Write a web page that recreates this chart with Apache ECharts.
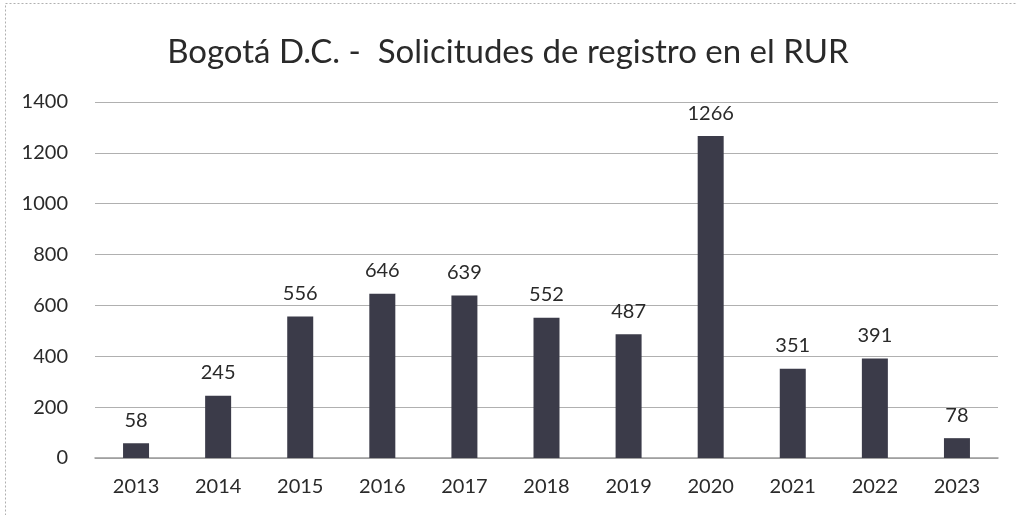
<!DOCTYPE html>
<html>
<head>
<meta charset="utf-8">
<script src="https://cdn.jsdelivr.net/npm/echarts@6/dist/echarts.min.js"></script>
<style>
  html, body { margin: 0; padding: 0; background: #fff; }
  #chart { width: 1016px; height: 515px; }
</style>
</head>
<body>
<div id="chart"></div>
<script>
const years = ['2013', '2014', '2015', '2016', '2017', '2018', '2019', '2020', '2021', '2022', '2023'];
const requests = [58, 245, 556, 646, 639, 552, 487, 1266, 351, 391, 78];
const yTicks = [0, 200, 400, 600, 800, 1000, 1200, 1400];

const chart = echarts.init(document.getElementById('chart'), null, { renderer: 'canvas' });

const font = 'Lato, "Open Sans", sans-serif';

const option = {
  backgroundColor: '#ffffff',
  animation: false,
  title: {
    text: 'Bogotá D.C. -  Solicitudes de registro en el RUR',
    left: 'center',
    top: 31,
    textStyle: {
      fontFamily: font,
      fontSize: 33,
      fontWeight: 'normal',
      color: '#2a2a2a'
    }
  },
  graphic: [{
    type: 'rect',
    shape: { x: 5.5, y: 3.5, width: 1020, height: 520 },
    style: { fill: 'none', stroke: '#b0b0b0', lineWidth: 1, lineDash: [2, 2] }
  }],
  grid: { left: 95, right: 18, top: 102, bottom: 57 },
  xAxis: {
    type: 'category',
    data: years,
    axisTick: { show: false },
    axisLine: { show: true, lineStyle: { color: '#9a9a9a', width: 1.5 } },
    axisLabel: { fontFamily: font, fontSize: 20, color: '#2a2a2a', margin: 19 }
  },
  yAxis: {
    type: 'value',
    min: yTicks[0],
    max: yTicks[yTicks.length - 1],
    interval: 200,
    axisLine: { show: false },
    axisTick: { show: false },
    axisLabel: {
      fontFamily: font, fontSize: 20, color: '#2a2a2a', margin: 27,
      formatter: v => String(v)
    },
    splitLine: { lineStyle: { color: '#b0b0b0', width: 1.2 } }
  },
  series: [{
    type: 'bar',
    data: requests,
    barWidth: 26,
    itemStyle: { color: '#3b3b49' },
    label: {
      show: true,
      position: 'top',
      distance: 13,
      fontFamily: font,
      fontSize: 20,
      color: '#2a2a2a'
    }
  }]
};

chart.setOption(option);
</script>
</body>
</html>
